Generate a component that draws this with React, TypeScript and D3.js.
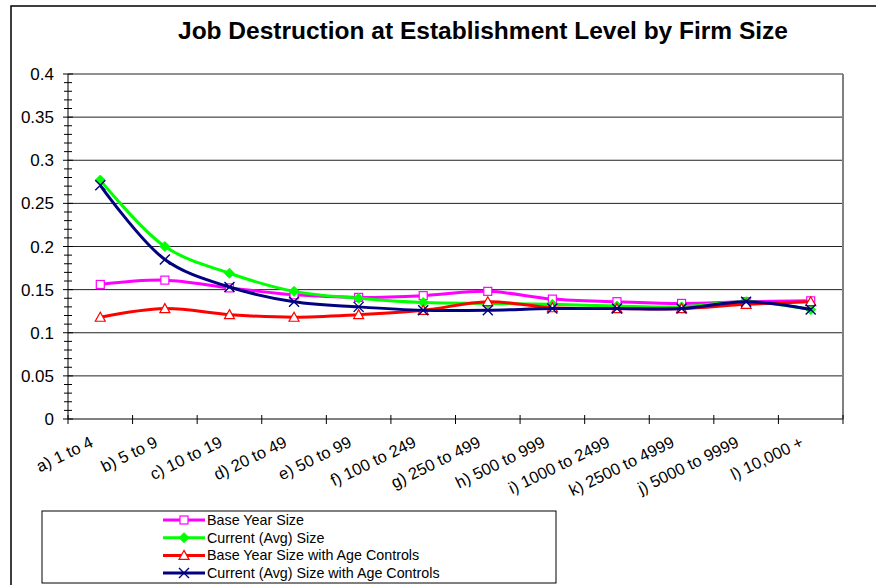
import React from "react";
import * as d3 from "d3";

const categories = [
  "a) 1 to 4", "b) 5 to 9", "c) 10 to 19", "d) 20 to 49", "e) 50 to 99",
  "f) 100 to 249", "g) 250 to 499", "h) 500 to 999", "i) 1000 to 2499",
  "k) 2500 to 4999", "j) 5000 to 9999", "l) 10,000 +",
];
const baseYear = [0.156, 0.161, 0.152, 0.144, 0.141, 0.143, 0.148, 0.139, 0.136, 0.134, 0.136, 0.137];
const currentAvg = [0.277, 0.200, 0.169, 0.148, 0.140, 0.135, 0.134, 0.133, 0.131, 0.130, 0.136, 0.127];
const baseYearAge = [0.118, 0.128, 0.121, 0.118, 0.121, 0.126, 0.136, 0.129, 0.128, 0.128, 0.133, 0.136];
const currentAvgAge = [0.271, 0.185, 0.153, 0.136, 0.130, 0.126, 0.126, 0.128, 0.128, 0.128, 0.136, 0.127];
const yTicks = [0, 0.05, 0.1, 0.15, 0.2, 0.25, 0.3, 0.35, 0.4];
const seriesNames = [
  "Base Year Size", "Current (Avg) Size",
  "Base Year Size with Age Controls", "Current (Avg) Size with Age Controls",
];

const W = 876, H = 585;
const PL = 68, PR = 843, PT = 74, PB = 419;
const FONT = "'Liberation Sans', Arial, sans-serif";

type Kind = "square" | "diamond" | "triangle" | "x";
const series: { name: string; values: number[]; color: string; kind: Kind }[] = [
  { name: seriesNames[0], values: baseYear, color: "#ff00ff", kind: "square" },
  { name: seriesNames[1], values: currentAvg, color: "#00ff00", kind: "diamond" },
  { name: seriesNames[2], values: baseYearAge, color: "#ff0000", kind: "triangle" },
  { name: seriesNames[3], values: currentAvgAge, color: "#000080", kind: "x" },
];

function Marker({ kind, x, y, color }: { kind: Kind; x: number; y: number; color: string }) {
  if (kind === "square")
    return <rect x={x - 4} y={y - 4} width={8} height={8} fill="white" stroke={color} strokeWidth={1.2} />;
  if (kind === "diamond")
    return <path d={`M${x},${y - 5}L${x + 5},${y}L${x},${y + 5}L${x - 5},${y}Z`} fill={color} stroke={color} />;
  if (kind === "triangle")
    return <path d={`M${x},${y - 5}L${x + 5},${y + 4}L${x - 5},${y + 4}Z`} fill="white" stroke={color} strokeWidth={1.2} />;
  return (
    <path d={`M${x - 5},${y - 5}L${x + 5},${y + 5}M${x - 5},${y + 5}L${x + 5},${y - 5}`} stroke={color} strokeWidth={1.4} />
  );
}

export default function App() {
  const x = d3.scaleBand<string>().domain(categories).range([PL, PR]).padding(0);
  const y = d3.scaleLinear().domain([0, 0.4]).range([PB, PT]);
  const cx = (c: string) => (x(c) as number) + x.bandwidth() / 2;
  const line = d3
    .line<number>()
    .x((_, i) => cx(categories[i]))
    .y((v) => y(v))
    .curve(d3.curveCatmullRom.alpha(0.5));
  const minor = d3.range(0, 0.4001, 0.01);
  const boundaries = categories.map((c) => x(c) as number).concat([PR]);

  return (
    <svg width={W} height={H} style={{ position: "absolute", left: 0, top: 0, fontFamily: FONT }}>
      <rect x={0} y={0} width={W} height={H} fill="white" />
      <rect x={11} y={6} width={W + 20} height={H + 20} fill="white" stroke="black" strokeWidth={1.5} />
      <text x={483} y={39} textAnchor="middle" fontSize={23.5} fontWeight="bold" textLength={610} lengthAdjust="spacingAndGlyphs">
        Job Destruction at Establishment Level by Firm Size
      </text>
      {/* gridlines */}
      {yTicks.map((t) => (
        <line key={t} x1={PL} x2={PR} y1={y(t)} y2={y(t)} stroke={t === 0 ? "black" : "#222"} strokeWidth={1} />
      ))}
      <line x1={PR} x2={PR} y1={PT} y2={PB} stroke="#808080" strokeWidth={2} />
      {/* y axis */}
      <line x1={PL} x2={PL} y1={PT} y2={PB} stroke="black" strokeWidth={1} />
      {minor.map((t, i) => (
        <line key={i} x1={i % 5 === 0 ? 63 : 64} x2={i % 5 === 0 ? 73 : 72} y1={y(t)} y2={y(t)} stroke="black" strokeWidth={1} />
      ))}
      {yTicks.map((t) => (
        <text key={t} x={54} y={y(t) + 6} textAnchor="end" fontSize={17}>
          {String(+t.toFixed(2))}
        </text>
      ))}
      {/* x axis ticks */}
      {boundaries.map((b, i) => (
        <line key={i} x1={b} x2={b} y1={PB - 4} y2={PB + 5} stroke="black" strokeWidth={1} />
      ))}
      {categories.map((c) => (
        <text
          key={c}
          transform={`translate(${cx(c) - 6},${PB + 27}) rotate(-26)`}
          textAnchor="end"
          fontSize={16.5}
        >
          {c}
        </text>
      ))}
      {/* series */}
      {series.map((s) => (
        <g key={s.name}>
          <path d={line(s.values) || ""} fill="none" stroke={s.color} strokeWidth={3} />
          {s.values.map((v, i) => (
            <Marker key={i} kind={s.kind} x={cx(categories[i])} y={y(v)} color={s.color} />
          ))}
        </g>
      ))}
      {/* legend */}
      <rect x={42} y={511} width={514} height={72} fill="white" stroke="black" strokeWidth={1} />
      {series.map((s, i) => {
        const ly = 520 + i * 17.7;
        return (
          <g key={s.name}>
            <line x1={163} x2={205} y1={ly} y2={ly} stroke={s.color} strokeWidth={3} />
            <Marker kind={s.kind} x={184} y={ly} color={s.color} />
            <text x={207} y={ly + 5} fontSize={14.3}>
              {s.name}
            </text>
          </g>
        );
      })}
    </svg>
  );
}
